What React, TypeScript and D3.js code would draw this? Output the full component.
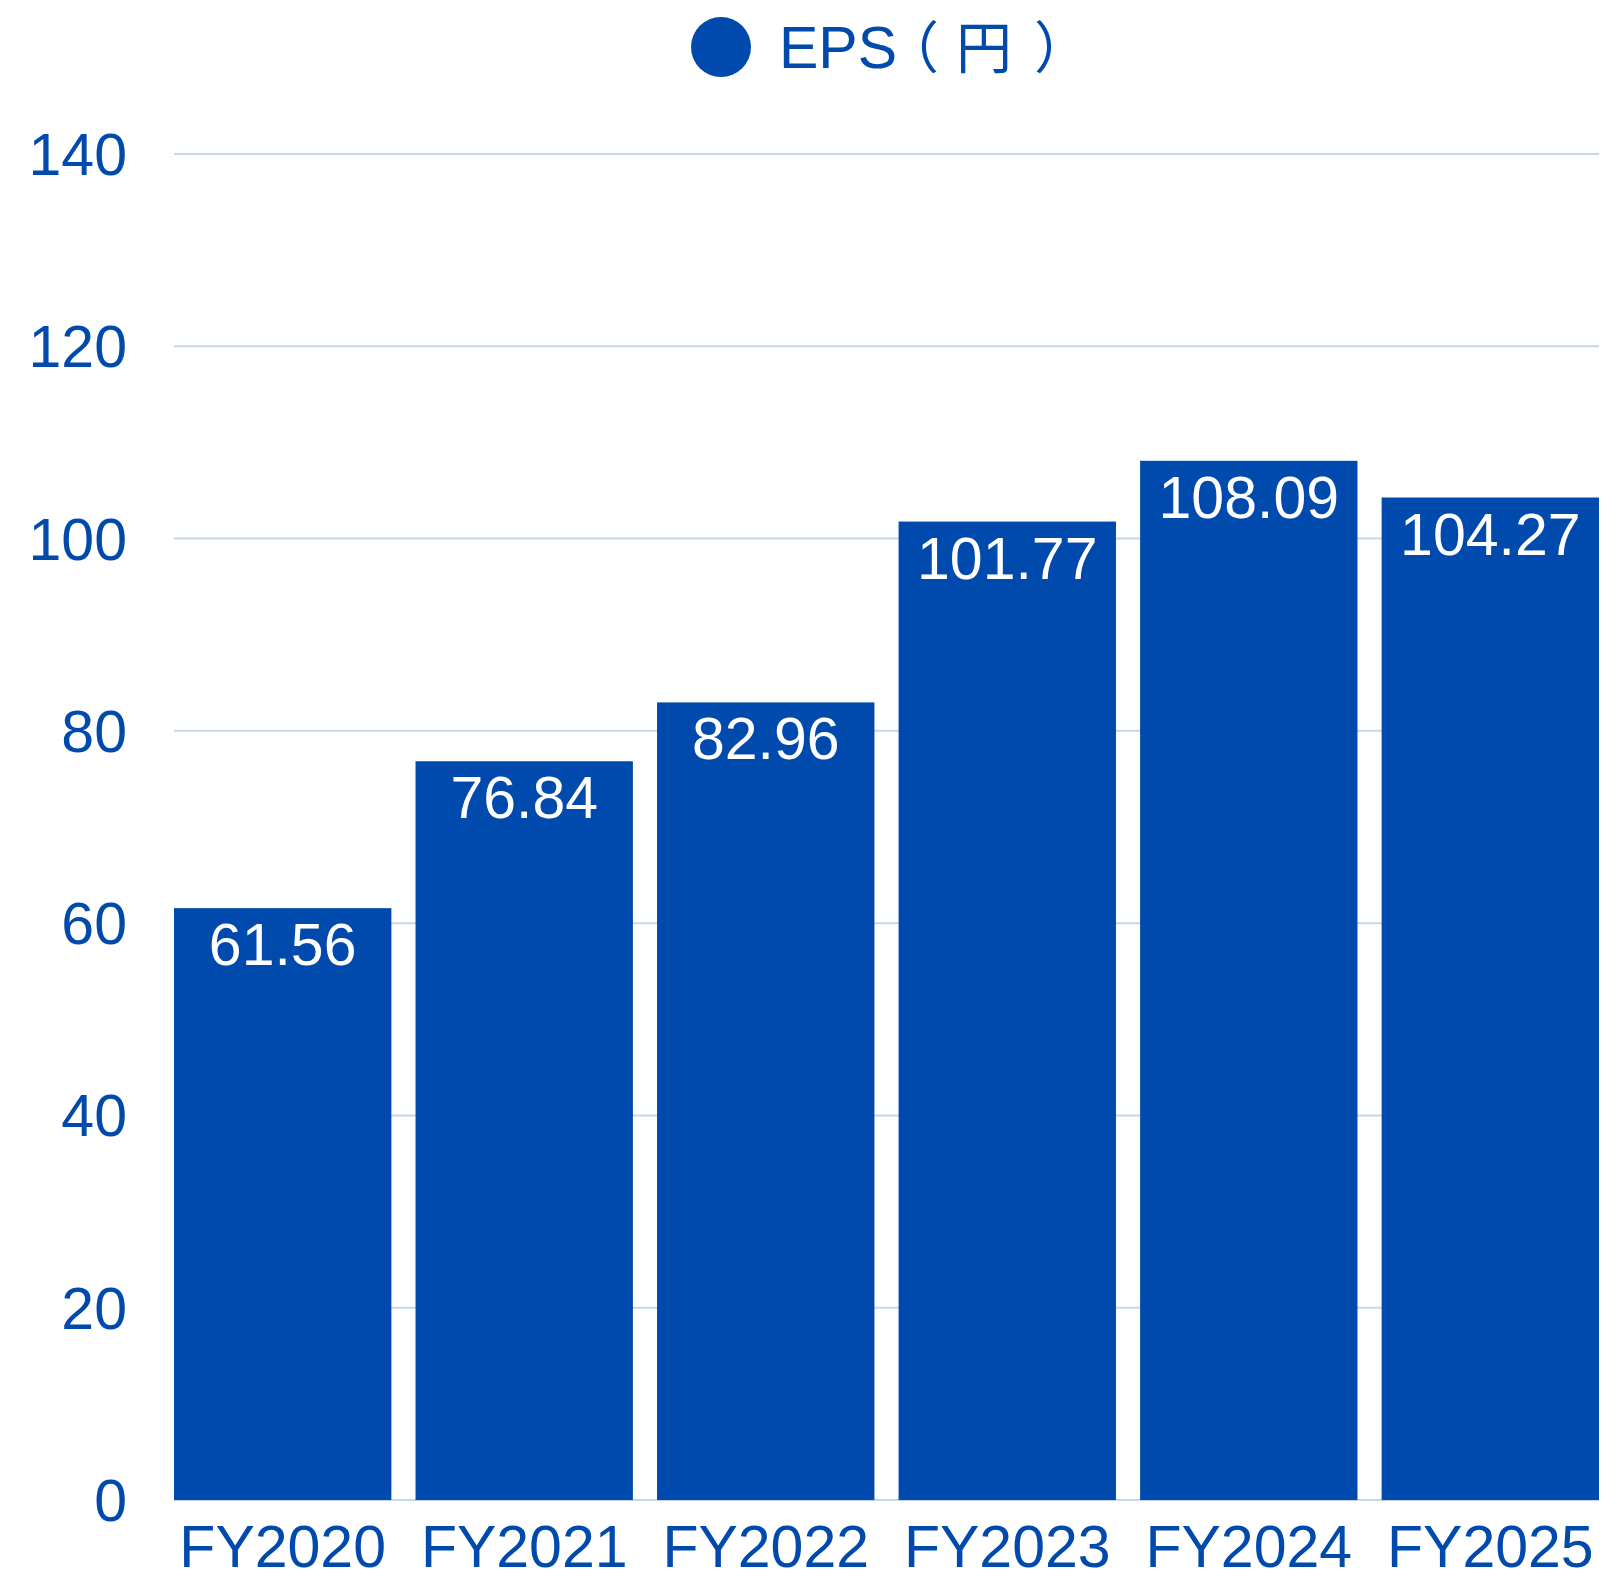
import React from "react";
import * as d3 from "d3";

const categories = ["FY2020", "FY2021", "FY2022", "FY2023", "FY2024", "FY2025"];
const epsValues = [61.56, 76.84, 82.96, 101.77, 108.09, 104.27];
const yTicks = [0, 20, 40, 60, 80, 100, 120, 140];
const legendParts = ["EPS", "（", "円", "）"];

const W = 1622;
const H = 1580;
const BLUE = "#004aad";
const GRID = "#c9d5ea";
const FONT = "'Liberation Sans', Arial, 'Noto Sans CJK JP', sans-serif";
const CJK = "'Noto Sans CJK JP', sans-serif";

export default function App() {
  const x = d3.scaleBand<string>().domain(categories).range([174, 1599]).paddingInner(0.1).paddingOuter(0);
  const y = d3.scaleLinear().domain([0, 140]).range([1500, 154]);

  return (
    <svg width={W} height={H} style={{ position: "absolute", left: 0, top: 0, background: "#fff" }} fontFamily={FONT}>
      {/* legend */}
      <circle cx={721} cy={47} r={30} fill={BLUE} />
      <text x={779} y={68} fontSize={59} fill={BLUE}>
        <tspan>{legendParts[0]}</tspan>
        <tspan fontFamily={CJK} fontSize={56} dx={-14}>{legendParts[1]}</tspan>
        <tspan fontFamily={CJK} fontSize={56} dx={17}>{legendParts[2]}</tspan>
        <tspan fontFamily={CJK} fontSize={56} dx={22}>{legendParts[3]}</tspan>
      </text>

      {/* grid */}
      {yTicks.map((t) => (
        <g key={t}>
          <line x1={174} x2={1599} y1={y(t)} y2={y(t)} stroke={GRID} strokeWidth={2} />
          <text x={127} y={y(t) + 21} fontSize={59} fill={BLUE} textAnchor="end">{t}</text>
        </g>
      ))}

      {/* bars */}
      {categories.map((c, i) => {
        const v = epsValues[i];
        const bx = x(c)!;
        const bw = x.bandwidth();
        return (
          <g key={c}>
            <rect x={bx} y={y(v)} width={bw} height={y(0) - y(v)} fill={BLUE} />
            <text x={bx + bw / 2} y={y(v) + 57} fontSize={59} fill="#fff" textAnchor="middle">
              {v.toFixed(2)}
            </text>
            <text x={bx + bw / 2} y={1567} fontSize={59} fill={BLUE} textAnchor="middle">{c}</text>
          </g>
        );
      })}
    </svg>
  );
}
